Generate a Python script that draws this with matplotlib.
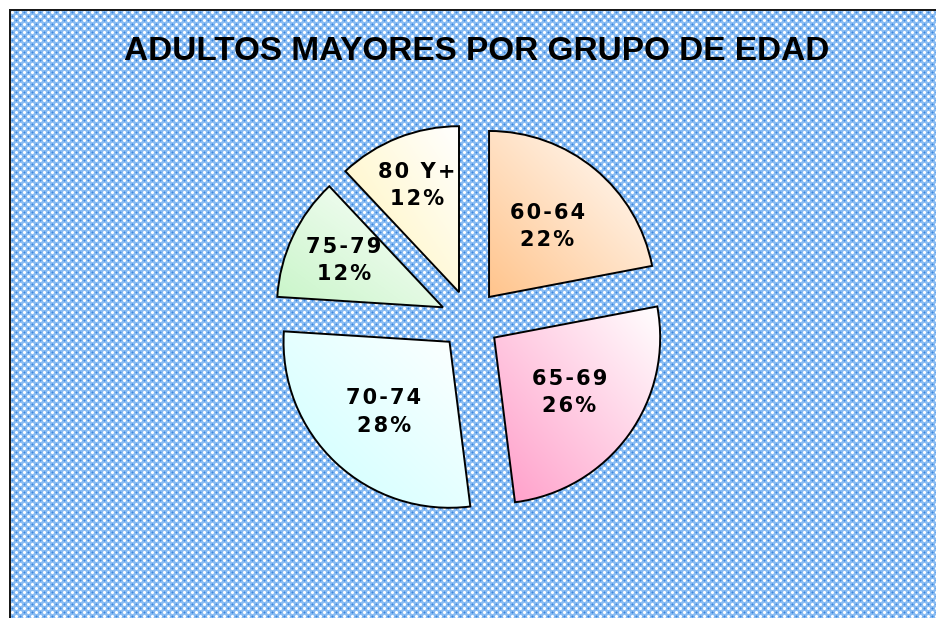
import numpy as np
import matplotlib
matplotlib.use("Agg")
import matplotlib.pyplot as plt
from matplotlib.colors import to_rgb

# ---- data ----
categories = ["60-64", "65-69", "70-74", "75-79", "80 Y+"]
values = [22, 26, 28, 12, 12]
colors = ["#ffc48c", "#ff9cc8", "#ccffff", "#c8f5c8", "#fff4b8"]
title = "ADULTOS MAYORES POR GRUPO DE EDAD"

W, H = 936, 618
fig = plt.figure(figsize=(W / 100, H / 100), dpi=100)
fig.patch.set_facecolor("white")

# ---- patterned background (8px tile) ----
base = np.array([138, 188, 242]) / 255
ring = np.array([205, 228, 252]) / 255
dark = np.array([60, 135, 222]) / 255
white = np.array([1.0, 1.0, 1.0])
tile = np.tile(base, (8, 8, 1))
for (ci, cj) in [(0, 0), (4, 4)]:
    for di, dj in [(1, 1), (1, -1), (-1, 1), (-1, -1)]:
        tile[(ci + di) % 8, (cj + dj) % 8] = ring
    for di, dj in [(0, 0), (1, 0), (-1, 0), (0, 1), (0, -1)]:
        tile[(ci + di) % 8, (cj + dj) % 8] = white
for (ci, cj) in [(0, 4), (4, 0)]:
    tile[ci, cj] = dark
    for di, dj in [(1, 0), (-1, 0), (0, 1), (0, -1)]:
        tile[(ci + di) % 8, (cj + dj) % 8] = (dark + base) / 2
bg = np.ones((H, W, 3))
pat = np.tile(tile, (H // 8 + 1, W // 8 + 1, 1))[:H, :W]
x0, y0 = 9, 9
bg[y0:, x0:] = pat[y0:, x0:]
bg[y0:y0 + 2, x0:] = 0.1
bg[y0:, x0:x0 + 2] = 0.1
fig.figimage(bg, xo=0, yo=0, origin="upper", zorder=0)

# ---- pie ----
cx, cy, R = 470, 320, 166
half = 200
ax = fig.add_axes([(cx - half) / W, (H - cy - half) / H, 2 * half / W, 2 * half / H])
ax.set_zorder(5)
ax.patch.set_alpha(0)
wedges, _ = ax.pie(values, startangle=90, counterclock=False,
                   explode=[0.18] * len(values),
                   wedgeprops=dict(facecolor="none", edgecolor="black", linewidth=1.4))
lim = half / R
ax.axis("off")

label_dist = [0.55, 0.56, 0.58, 0.66, 0.69]
for w, col, cat, v, ld in zip(wedges, colors, categories, values, label_dist):
    w.set_zorder(3)
    xc, yc = w.center
    ang = np.radians(np.linspace(w.theta1, w.theta2, 100))
    xs = np.concatenate([[xc], xc + w.r * np.cos(ang)])
    ys = np.concatenate([[yc], yc + w.r * np.sin(ang)])
    xmin, xmax, ymin, ymax = xs.min(), xs.max(), ys.min(), ys.max()
    n = 200
    gx, gy = np.meshgrid(np.linspace(0, 1, n), np.linspace(0, 1, n))
    t = ((gx + (1 - gy)) / 2)[..., None]
    c = np.array(to_rgb(col))
    img = c * (1 - t) + white * t
    im = ax.imshow(img, extent=(xmin, xmax, ymin, ymax), origin="upper",
                   zorder=2, interpolation="bilinear")
    im.set_clip_path(w)
    mid = np.radians((w.theta1 + w.theta2) / 2)
    lx = xc + ld * w.r * np.cos(mid)
    ly = yc + ld * w.r * np.sin(mid)
    lab = "\u200a".join(cat) + "\n" + "\u200a".join(f"{v}%")
    ax.text(lx, ly, lab, ha="center", va="center", fontsize=15,
            fontweight="bold", family="DejaVu Sans", linespacing=1.45,
            zorder=4, color="black")

ax.set_xlim(-lim, lim)
ax.set_ylim(-lim, lim)
ax.set_aspect("equal")

fig.text(477 / W, 1 - 52 / H, title, ha="center", va="center",
         fontsize=24, fontweight="bold", family="Liberation Sans", zorder=6)

fig.savefig("out.png", dpi=100)
